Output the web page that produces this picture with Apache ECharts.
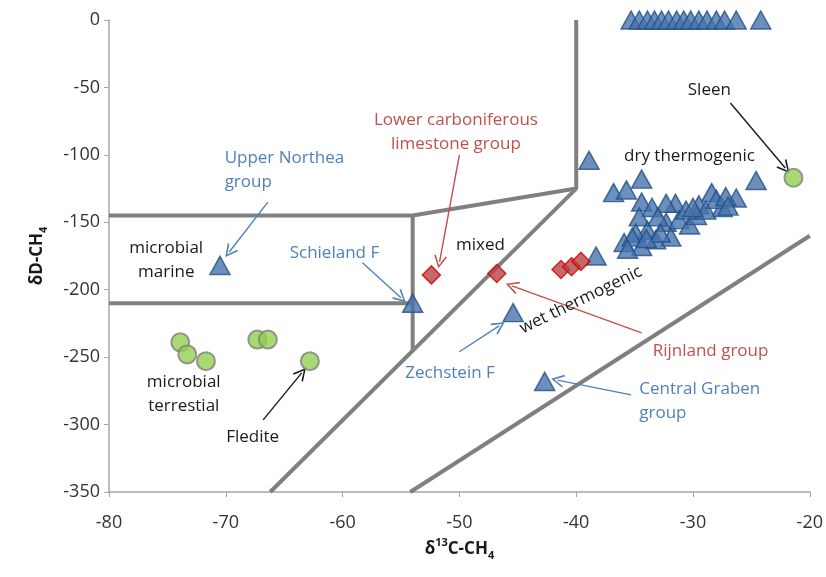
<!DOCTYPE html>
<html>
<head>
<meta charset="utf-8">
<script src="https://cdn.jsdelivr.net/npm/echarts@6/dist/echarts.min.js"></script>
<style>
  html, body { margin: 0; padding: 0; background: #fff; }
  #chart { width: 826px; height: 577px; }
</style>
</head>
<body>
<div id="chart"></div>
<script>
// gas samples, [d13C, dD]
var triangles = [
  [-35.3, 0], [-34.6, 0], [-33.9, 0], [-33.3, 0], [-32.7, 0], [-32.1, 0], [-31.4, 0],
  [-30.8, 0], [-30.2, 0], [-29.5, 0], [-28.8, 0], [-28.0, 0], [-27.3, 0], [-26.3, 0], [-24.2, 0],
  [-70.5, -182], [-54, -210], [-45.4, -217], [-42.7, -268], [-38.3, -175], [-38.9, -104],
  [-36.8, -128], [-35.7, -126], [-34.4, -118], [-34.4, -135], [-24.6, -119], [-26.3, -132],
  [-27.5, -139], [-28.4, -128], [-29.5, -137], [-31.5, -136], [-32.3, -136], [-33.5, -139],
  [-34.6, -146], [-32.3, -150], [-31.2, -148], [-30.3, -152], [-33.9, -156], [-34.9, -158],
  [-31.9, -161], [-33.2, -163], [-35.9, -165], [-35.2, -161], [-34.4, -168], [-29.7, -145],
  [-28.9, -141], [-28.0, -133], [-27.2, -131], [-30.6, -141], [-33.0, -146], [-32.8, -158],
  [-35.6, -170], [-34.0, -162], [-30.0, -139], [-27.0, -138]
];
var diamonds = [[-52.4, -189], [-46.8, -188], [-41.3, -185], [-40.4, -183], [-39.6, -179]];
var circles = [[-73.9, -239], [-73.3, -248], [-71.7, -253], [-67.3, -237], [-66.4, -237], [-62.8, -253], [-21.4, -117]];

// classification field boundaries
var boundaries = [
  [[-80, -145], [-54, -145], [-40, -125], [-40, 0]],
  [[-80, -210], [-54, -210]],
  [[-54, -145], [-54, -245]],
  [[-40, -125], [-66.2, -350]],
  [[-54.2, -350], [-20, -160]]
];

var xTicks = [-80, -70, -60, -50, -40, -30, -20];
var yTicks = [0, -50, -100, -150, -200, -250, -300, -350];

var BLUE = '#4f81bd', RED = '#c0504d', BLACK = '#1a1a1a';

// annotation texts [x, y, text, colour, align, rotate]
var notes = [
  [-28.6, -52, 'Sleen', BLACK, 'center', 0],
  [-30.3, -101, 'dry thermogenic', BLACK, 'center', 0],
  [-50.3, -83, 'Lower carboniferous\nlimestone group', RED, 'center', 0],
  [-48.2, -167, 'mixed', BLACK, 'center', 0],
  [-70.1, -111, 'Upper Northea\ngroup', BLUE, 'left', 0],
  [-75.1, -178, 'microbial\nmarine', BLACK, 'center', 0],
  [-60.7, -172.7, 'Schieland F', BLUE, 'center', 0],
  [-39.6, -207.6, 'wet thermogenic', BLACK, 'center', 26],
  [-28.5, -245.4, 'Rijnland group', RED, 'center', 0],
  [-50.8, -261.7, 'Zechstein F', BLUE, 'center', 0],
  [-34.6, -283, 'Central Graben\ngroup', BLUE, 'left', 0],
  [-73.6, -277.2, 'microbial\nterrestial', BLACK, 'center', 0],
  [-67.7, -309, 'Fledite', BLACK, 'center', 0]
];
var arrows = [
  [[-26.8, -61.5], [-22.1, -109.7], '#1a1a1a'],
  [[-50.0, -100], [-51.7, -179.4], '#c0504d'],
  [[-66.4, -135], [-69.7, -172], '#4f81bd'],
  [[-58.3, -180], [-55.0, -206], '#4f81bd'],
  [[-34.4, -232], [-45.5, -197.2], '#c0504d'],
  [[-50.0, -246], [-46.6, -226.8], '#4f81bd'],
  [[-35.3, -278], [-41.6, -267], '#4f81bd'],
  [[-66.8, -296.5], [-63.5, -261.7], '#1a1a1a']
];

var myChart = echarts.init(document.getElementById('chart'));

var series = [];
boundaries.forEach(function (b) {
  series.push({
    type: 'line', data: b, symbol: 'none', silent: true, z: 1,
    lineStyle: { color: '#808080', width: 4 }
  });
});
series.push({
  type: 'lines', coordinateSystem: 'cartesian2d', z: 2, silent: true,
  symbol: ['none', 'path://M0,10 L5,0 L10,10 L8.8,10.5 L5,2.6 L1.2,10.5 Z'],
  symbolSize: 13,
  data: arrows.map(function (a) {
    return { coords: [a[0], a[1]], lineStyle: { color: a[2], width: 1.4, opacity: 1 } };
  })
});
series.push({
  type: 'scatter', data: triangles, symbol: 'triangle', symbolSize: [20, 18], clip: false, z: 5,
  itemStyle: { color: '#4774ad', borderColor: '#244f86', borderWidth: 1.5 }
});
series.push({
  type: 'scatter', data: diamonds, symbol: 'diamond', symbolSize: 18, clip: false, z: 6,
  itemStyle: { color: '#b54444', borderColor: '#d40000', borderWidth: 1.5 }
});
series.push({
  type: 'scatter', data: circles, symbol: 'circle', symbolSize: 18, clip: false, z: 6,
  itemStyle: { color: '#92d050', borderColor: '#808080', borderWidth: 2 }
});
series.push({
  type: 'scatter', symbolSize: 0, silent: true, z: 7,
  data: notes.map(function (n) {
    return {
      value: [n[0], n[1]],
      label: {
        show: true, position: 'inside', formatter: n[2], color: n[3], opacity: 1,
        textBorderWidth: 0, align: n[4], rotate: n[5],
        fontFamily: 'Open Sans', fontSize: 17, lineHeight: 24
      }
    };
  })
});

myChart.setOption({
  animation: false,
  grid: { left: 109, right: 15, top: 20, bottom: 85 },
  xAxis: {
    type: 'value', min: -80, max: -20, interval: 10,
    name: '{a|δ}{sup|13}{a|C-CH}{sub|4}', nameLocation: 'middle', nameGap: 44,
    nameTextStyle: {
      rich: {
        a: { fontFamily: 'Open Sans', fontWeight: 'bold', fontSize: 17, color: '#1a1a1a', lineHeight: 24 },
        sup: { fontFamily: 'Open Sans', fontWeight: 'bold', fontSize: 11, color: '#1a1a1a', verticalAlign: 'top', lineHeight: 24 },
        sub: { fontFamily: 'Open Sans', fontWeight: 'bold', fontSize: 11, color: '#1a1a1a', verticalAlign: 'bottom', lineHeight: 24 }
      }
    },
    axisLine: { onZero: false, lineStyle: { color: '#a6a6a6', width: 1.5 } },
    axisTick: { show: true, length: 5, lineStyle: { color: '#a6a6a6' } },
    splitLine: { show: false },
    axisLabel: {
      margin: 22, color: '#333333', fontFamily: 'Open Sans', fontSize: 18,
      formatter: function (v) { return xTicks.indexOf(v) >= 0 ? String(v) : ''; }
    }
  },
  yAxis: {
    type: 'value', min: -350, max: 0, interval: 50,
    name: '{a|δD-CH}{sub|4}', nameLocation: 'middle', nameGap: 60, nameRotate: 90,
    nameTextStyle: {
      rich: {
        a: { fontFamily: 'Open Sans', fontWeight: 'bold', fontSize: 17, color: '#1a1a1a', lineHeight: 24 },
        sub: { fontFamily: 'Open Sans', fontWeight: 'bold', fontSize: 11, color: '#1a1a1a', verticalAlign: 'bottom', lineHeight: 24 }
      }
    },
    axisLine: { show: true, onZero: false, lineStyle: { color: '#a6a6a6', width: 1.5 } },
    axisTick: { show: true, length: 5, lineStyle: { color: '#a6a6a6' } },
    splitLine: { show: false },
    axisLabel: {
      margin: 9, color: '#333333', fontFamily: 'Open Sans', fontSize: 18,
      formatter: function (v) { return yTicks.indexOf(v) >= 0 ? String(v) : ''; }
    }
  },
  series: series
});
</script>
</body>
</html>
